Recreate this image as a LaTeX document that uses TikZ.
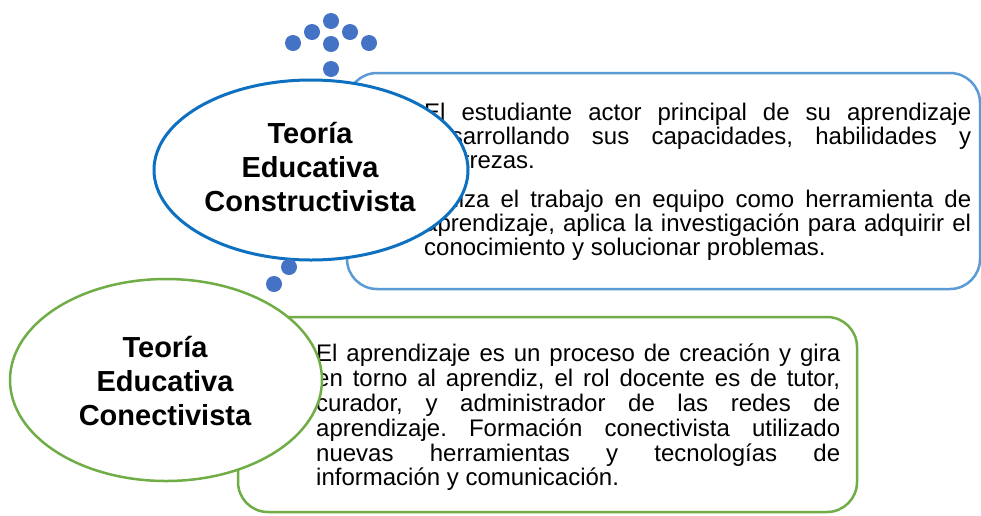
\documentclass[tikz,border=0pt]{standalone}
\usepackage{fontspec}
\setmainfont{Liberation Sans}
\usetikzlibrary{shapes.geometric}
\definecolor{dotblue}{HTML}{4472C4}
\definecolor{ellblue}{HTML}{0E70C0}
\definecolor{panblue}{HTML}{5B9BD5}
\definecolor{leafgreen}{HTML}{70AD47}
\frenchspacing
\begin{document}
\begin{tikzpicture}[x=1pt,y=-1pt,
  bubble/.style={circle, fill=dotblue, inner sep=0pt, minimum size=16pt},
  bluepanel/.style={draw=panblue, line width=2.5pt, rounded corners=30pt, minimum width=633pt, minimum height=216pt, inner sep=0pt},
  greenpanel/.style={draw=leafgreen, line width=2.5pt, rounded corners=30pt, minimum width=619pt, minimum height=195pt, inner sep=0pt},
  bodytext/.style={inner sep=0pt, anchor=north west, align=justify},
  headtext/.style={inner sep=0pt, align=center, font=\bfseries\fontsize{29}{34}\selectfont},
  blueell/.style={ellipse, draw=ellblue, line width=3pt, fill=white, minimum width=314pt, minimum height=180pt, inner sep=0pt},
  greenell/.style={ellipse, draw=leafgreen, line width=2.5pt, fill=white, minimum width=312pt, minimum height=202pt, inner sep=0pt}
]
\useasboundingbox (0,0) rectangle (981,515);
\clip (0,0) rectangle (981,515);
\fill[white] (0,0) rectangle (981,515);

% top dots
\node[bubble] (d1) at (331,21) {};
\node[bubble] (d2) at (312,32) {};
\node[bubble] (d3) at (350,32) {};
\node[bubble] (d4) at (293,43) {};
\node[bubble] (d5) at (331,44) {};
\node[bubble] (d6) at (369,43) {};
\node[bubble] (d7) at (331,69) {};

% blue group
\node[bluepanel] (bpanel) at (663.5,181) {};
\node[bodytext, text width=547pt, font=\fontsize{24}{24.2}\selectfont] (btext) at (424,103) {\parindent=0pt\hyphenpenalty=10000\setlength{\parskip}{14pt}%
El estudiante actor principal de su aprendizaje\linebreak desarrollando sus capacidades, habilidades y\linebreak destrezas.\par
Utiliza el trabajo en equipo como herramienta de\linebreak aprendizaje, aplica la investigación para adquirir el\linebreak conocimiento y solucionar problemas.};
\node[blueell] (bell) at (311,170) {};
\node[headtext] (bhead) at (310,167) {Teoría\\Educativa\\Constructivista};

% lower dots
\node[bubble] (d8) at (289,267) {};
\node[bubble] (d9) at (274,284) {};

% green group
\node[greenpanel] (gpanel) at (547.5,414.5) {};
\node[bodytext, text width=524pt, font=\fontsize{24}{24.8}\selectfont] (gtext) at (316,344) {\parindent=0pt\hyphenpenalty=10000%
El aprendizaje es un proceso de creación y gira\linebreak en torno al aprendiz, el rol docente es de tutor,\linebreak curador, y administrador de las redes de\linebreak aprendizaje. Formación conectivista utilizado\linebreak nuevas herramientas y tecnologías de\linebreak información y comunicación.};
\node[greenell] (gell) at (166,380) {};
\node[headtext] (ghead) at (165,381) {Teoría\\Educativa\\Conectivista};
\end{tikzpicture}
\end{document}
